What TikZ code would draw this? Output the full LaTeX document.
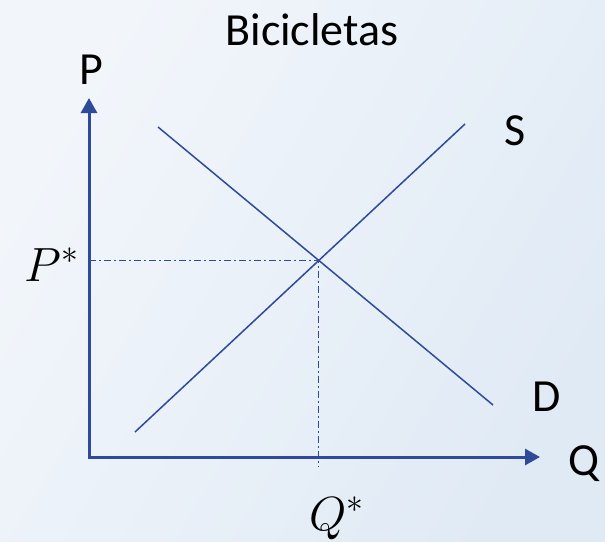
\RequirePackage{fix-cm}
\documentclass[tikz,border=0pt]{standalone}
\usepackage{fontspec}
\setmainfont{Carlito}
\usetikzlibrary{arrows.meta}
\definecolor{linecol}{HTML}{2F4A98}
\definecolor{bgA}{HTML}{F2F6FB}
\definecolor{bgB}{HTML}{E0EAF5}
\tikzset{
  axisline/.style={draw=linecol, line width=3pt, -{Triangle[length=15pt,width=16pt]}},
  curveline/.style={draw=linecol, line width=1.5pt},
  guideline/.style={draw=linecol, line width=1.2pt, dash pattern=on 7pt off 3pt on 2pt off 3pt},
  lbl/.style={inner sep=0pt, anchor=base, font=\fontsize{46}{52}\selectfont},
  mlbl/.style={inner sep=0pt, anchor=base, font=\fontsize{48}{54}\selectfont}
}
\begin{document}
\begin{tikzpicture}[x=1pt,y=-1pt]
\useasboundingbox (0,0) rectangle (605,541);
\shade[left color=bgA, right color=bgB, shading angle=60] (0,0) rectangle (605,541);
\coordinate (O) at (89,457);
\coordinate (Ptop) at (89,98);
\coordinate (Qend) at (540,457);
\coordinate (S1) at (135,432);
\coordinate (S2) at (465,124);
\coordinate (D1) at (158,127);
\coordinate (D2) at (493,405);
\coordinate (E) at (intersection of S1--S2 and D1--D2);
\coordinate (Pax) at (O |- E);
\coordinate (Qax) at ([yshift=-9pt]E |- O);
\draw[guideline] (Pax) -- (E) -- (Qax);
\draw[curveline] (S1) -- (S2);
\draw[curveline] (D1) -- (D2);
\draw[axisline] ([yshift=-1.5pt]O) -- (Ptop);
\draw[axisline] ([xshift=-1.5pt]O) -- (Qend);
\node[lbl] (title) at (312,45) {Bicicletas};
\node[lbl] (Plbl) at (91,84) {P};
\node[lbl] (Slbl) at (515,145) {S};
\node[lbl] (Dlbl) at (547,411) {D};
\node[lbl] (Qlbl) at (584,475) {Q};
\node[mlbl] (Pstar) at (52,281) {$P^*$};
\node[mlbl] (Qstar) at (337,530) {$Q^*$};
\end{tikzpicture}
\end{document}
